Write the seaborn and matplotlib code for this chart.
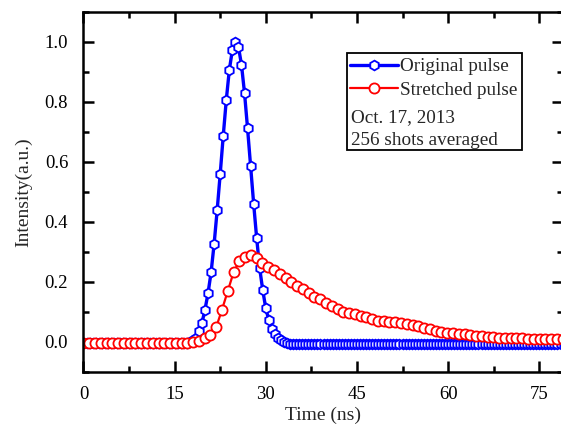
import numpy as np
import pandas as pd
import matplotlib
matplotlib.use("Agg")
import matplotlib.pyplot as plt
import matplotlib.patches as mpatches
from matplotlib.ticker import MultipleLocator, FormatStrFormatter
import seaborn as sns

blue_step = 0.5
red_step = 0.95

# original pulse, one value every 0.5 ns starting at 0 ns
blue_y = [
    -0.003, -0.003, -0.003, -0.003, -0.003, -0.003, -0.003, -0.003, -0.003, -0.003,
    -0.003, -0.003, -0.003, -0.003, -0.003, -0.003, -0.003, -0.003, -0.003, -0.003,
    -0.003, -0.003, -0.003, -0.003, -0.003, -0.003, -0.003, -0.003, -0.003, -0.003,
    -0.003, -0.003, -0.003, -0.003, -0.003,
    0.0, 0.006, 0.014, 0.036, 0.064, 0.108, 0.163, 0.232, 0.327, 0.439,
    0.56, 0.687, 0.806, 0.906, 0.972, 1.0, 0.983, 0.923, 0.829, 0.711,
    0.587, 0.461, 0.345, 0.245, 0.172, 0.112, 0.072, 0.042, 0.026, 0.014,
    0.006, 0.001, -0.003,
    -0.006, -0.006, -0.006, -0.006, -0.006, -0.006, -0.006, -0.006, -0.006, -0.006,
    -0.006, -0.006, -0.006, -0.006, -0.006, -0.006, -0.006, -0.006, -0.006, -0.006,
    -0.006, -0.006, -0.006, -0.006, -0.006, -0.006, -0.006, -0.006, -0.006, -0.006,
    -0.006, -0.006, -0.006, -0.006, -0.006, -0.006, -0.006, -0.006, -0.006, -0.006,
    -0.006, -0.006, -0.006, -0.006, -0.006, -0.006, -0.006, -0.006, -0.006, -0.006,
    -0.006, -0.006, -0.006, -0.006, -0.006, -0.006, -0.006, -0.006, -0.006, -0.006,
    -0.006, -0.006, -0.006, -0.006, -0.006, -0.006, -0.006, -0.006, -0.006, -0.006,
    -0.006, -0.006, -0.006, -0.006, -0.006, -0.006, -0.006, -0.006, -0.006, -0.006,
    -0.006, -0.006, -0.006, -0.006, -0.006, -0.006, -0.006, -0.006, -0.006, -0.006,
    -0.006,
]

# stretched pulse, one value every 0.95 ns starting at 0 ns
red_y = [
    -0.003, -0.003, -0.003, -0.003, -0.003, -0.003, -0.003, -0.003, -0.003, -0.003,
    -0.003, -0.003, -0.003, -0.003, -0.003, -0.003, -0.003, -0.003, -0.003,
    -0.001, 0.004, 0.013, 0.022, 0.05, 0.108, 0.17, 0.232, 0.27, 0.282,
    0.289, 0.28, 0.264, 0.25, 0.238, 0.227, 0.214, 0.2, 0.187, 0.176,
    0.163, 0.151, 0.142, 0.131, 0.121, 0.11, 0.101, 0.096, 0.092, 0.087,
    0.082, 0.076, 0.071, 0.069, 0.067, 0.066, 0.064, 0.06, 0.055, 0.052,
    0.048, 0.043, 0.037, 0.033, 0.031, 0.029, 0.027, 0.025, 0.023, 0.021,
    0.02, 0.018, 0.016, 0.014, 0.014, 0.013, 0.012, 0.012, 0.011, 0.011,
    0.01, 0.01, 0.009, 0.009, 0.009,
]

labels = ["Original pulse", "Stretched pulse"]
notes = ["Oct. 17, 2013", "256 shots averaged"]

df_blue = pd.DataFrame({"t": np.arange(len(blue_y)) * blue_step, "y": blue_y})
df_red = pd.DataFrame({"t": np.arange(len(red_y)) * red_step, "y": red_y})

sns.set_theme(style="ticks")
plt.rcParams["font.family"] = ["Liberation Serif", "DejaVu Serif"]

fig = plt.figure(figsize=(5.61, 4.30), dpi=100)
ax = fig.add_axes([0.1488, 0.1349, 0.8547, 0.838])

sns.lineplot(data=df_blue, x="t", y="y", ax=ax, color="#0000ff", lw=2.4,
             marker="h", markersize=7, markerfacecolor="white",
             markeredgecolor="#0000ff", markeredgewidth=1.3, label=labels[0],
             estimator=None, sort=False)
sns.lineplot(data=df_red, x="t", y="y", ax=ax, color="#ff0000", lw=1.6,
             marker="o", markersize=7.3, markerfacecolor="white",
             markeredgecolor="#ff0000", markeredgewidth=1.3, label=labels[1],
             estimator=None, sort=False)

ax.set_xlim(0, 78.9)
ax.set_ylim(-0.1, 1.1)
ax.xaxis.set_major_locator(MultipleLocator(15))
ax.xaxis.set_minor_locator(MultipleLocator(7.5))
ax.yaxis.set_major_locator(MultipleLocator(0.2))
ax.yaxis.set_minor_locator(MultipleLocator(0.1))
ax.yaxis.set_major_formatter(FormatStrFormatter("%.1f"))
ax.tick_params(which="both", direction="in", top=True, right=True,
               width=1.8, labelsize=13.5, colors="black")
ax.tick_params(axis="x", which="both", pad=10)
ax.tick_params(axis="y", which="both", pad=11)
ax.tick_params(which="major", length=8)
ax.tick_params(which="minor", length=4.5)
for s in ax.spines.values():
    s.set_linewidth(1.8)
    s.set_color("black")

ax.set_xlabel("Time (ns)", fontsize=14, labelpad=3)
ax.set_ylabel("Intensity(a.u.)", fontsize=14, labelpad=9)

# legend box with two extra note lines
leg = ax.legend(loc="upper left", bbox_to_anchor=(0.551, 0.877), frameon=False,
                fontsize=13.8, handlelength=2.55, handletextpad=0.1,
                labelspacing=0.33, borderpad=0.1, borderaxespad=0)
box = mpatches.Rectangle((0.5496, 0.6163), 0.3643, 0.2699, transform=ax.transAxes,
                         fill=False, edgecolor="black", lw=1.3, zorder=5)
ax.add_patch(box)
ax.text(0.558, 0.707, notes[0], transform=ax.transAxes, fontsize=13.8,
        va="center", ha="left")
ax.text(0.558, 0.643, notes[1], transform=ax.transAxes, fontsize=13.8,
        va="center", ha="left")

fig.savefig("out.png", dpi=100)
